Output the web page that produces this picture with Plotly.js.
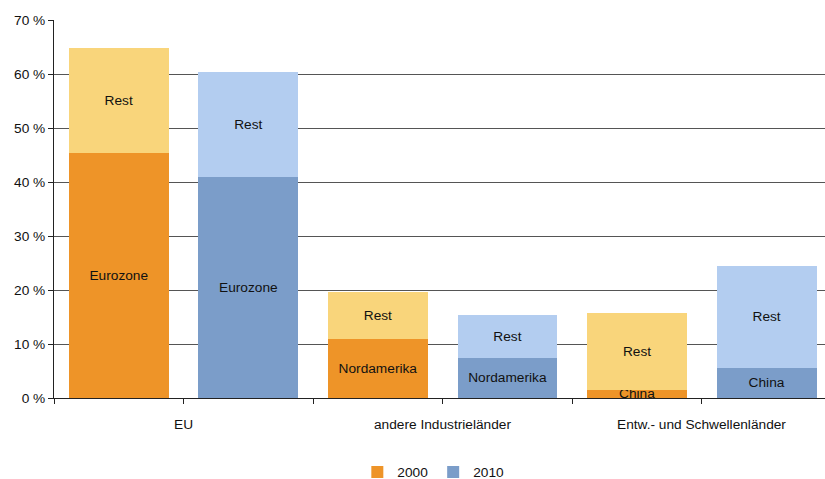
<!DOCTYPE html>
<html>
<head>
<meta charset="utf-8">
<script src="https://cdn.plot.ly/plotly-3.0.1.min.js"></script>
<style>html,body{margin:0;padding:0;background:#fff;}#chart{width:825px;height:479px;}</style>
</head>
<body>
<div id="chart"></div>
<script>
// Data
const groups = ["EU", "andere Industrieländer", "Entw.- und Schwellenländer"];
const years = ["2000", "2010"];
const baseLabels = ["Eurozone", "Nordamerika", "China"];
const restLabel = "Rest";
const base2000 = [45.4, 11.0, 1.5];
const total2000 = [64.8, 19.7, 15.8];
const base2010 = [41.0, 7.5, 5.6];
const total2010 = [60.4, 15.4, 24.5];
const yTicks = [0, 10, 20, 30, 40, 50, 60, 70];

const cats2000 = groups.map(g => g + " 2000");
const cats2010 = groups.map(g => g + " 2010");
const allCats = [];
groups.forEach((g) => { allCats.push(g + " 2000"); allCats.push(g + " 2010"); });

const rest2000 = total2000.map((t, i) => +(t - base2000[i]).toFixed(2));
const rest2010 = total2010.map((t, i) => +(t - base2010[i]).toFixed(2));

const txtFont = {family: "Liberation Sans, Arial, sans-serif", size: 13.7, color: "#111"};
const common = {type: "bar", textposition: "inside", insidetextanchor: "middle", textangle: 0,
  constraintext: "none", insidetextfont: txtFont, hoverinfo: "skip"};

const traces = [
  Object.assign({}, common, {x: cats2000, y: base2000, name: years[0], text: baseLabels,
    marker: {color: "#EE9428", line: {width: 0}}, showlegend: true}),
  Object.assign({}, common, {x: cats2000, y: rest2000, name: "Rest 2000", text: groups.map(() => restLabel),
    marker: {color: "#F9D57B", line: {width: 0}}, showlegend: false}),
  Object.assign({}, common, {x: cats2010, y: base2010, name: years[1], text: baseLabels,
    marker: {color: "#7B9DC9", line: {width: 0}}, showlegend: true}),
  Object.assign({}, common, {x: cats2010, y: rest2010, name: "Rest 2010", text: groups.map(() => restLabel),
    marker: {color: "#B3CDF0", line: {width: 0}}, showlegend: false})
];

const annotations = groups.map((g, i) => ({
  text: g, xref: "x", yref: "paper", x: 2 * i + 0.5, y: 0, yanchor: "top", xanchor: "center",
  yshift: -17, showarrow: false, font: txtFont
}));

const layout = {
  width: 825, height: 479,
  margin: {l: 54, r: 0, t: 20, b: 81, autoexpand: false},
  paper_bgcolor: "#fff", plot_bgcolor: "#fff",
  barmode: "stack", bargap: 0.23,
  font: txtFont,
  xaxis: {type: "category", categoryorder: "array", categoryarray: allCats,
    range: [-0.5, 5.45], showticklabels: false, tickson: "boundaries",
    ticks: "outside", ticklen: 5, tickcolor: "#222", showline: true, linecolor: "#222",
    linewidth: 1, showgrid: false, zeroline: false, fixedrange: true, automargin: false},
  yaxis: {range: [0, 70], tickvals: yTicks, ticktext: yTicks.map(v => v + " %"),
    ticks: "outside", ticklen: 5, tickcolor: "#222", showline: true, linecolor: "#222",
    showgrid: true, gridcolor: "#555", gridwidth: 1, zeroline: false, fixedrange: true,
    tickfont: txtFont, automargin: false},
  legend: {orientation: "h", x: 0.492, xanchor: "center", y: -0.196, yanchor: "middle",
    font: txtFont, traceorder: "normal", itemwidth: 30},
  annotations: annotations,
  hovermode: false
};

Plotly.newPlot("chart", traces, layout, {displayModeBar: false, staticPlot: true});
</script>
</body>
</html>
